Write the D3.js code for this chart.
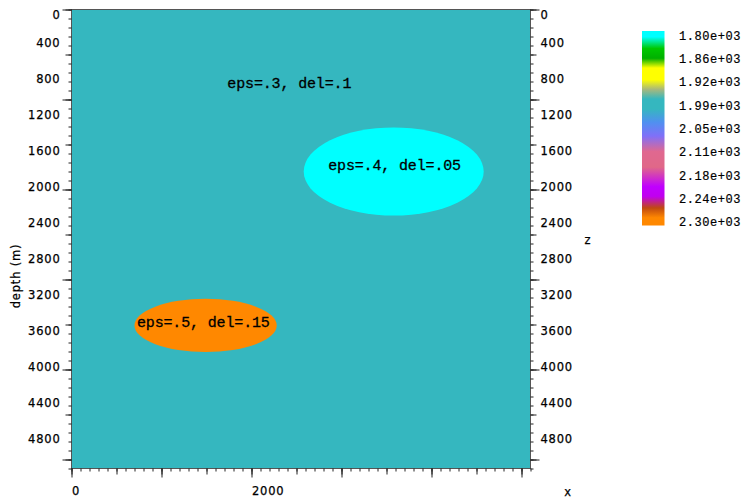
<!DOCTYPE html>
<html><head><meta charset="utf-8">
<script src="https://cdn.jsdelivr.net/npm/d3@7"></script>
<style>
html,body{margin:0;padding:0;background:#fff;}
svg{display:block;}
.ax text{font-family:"DejaVu Sans",sans-serif;font-size:11.5px;letter-spacing:0.8px;fill:#000;stroke:#000;stroke-width:0.25px;}
.cb text{font-family:"Liberation Mono",monospace;font-size:12px;letter-spacing:0.55px;fill:#000;stroke:#000;stroke-width:0.2px;}
.lbl{font-family:"Liberation Mono",monospace;font-size:15px;letter-spacing:-0.15px;fill:#000;stroke:#000;stroke-width:0.3px;}
</style>
</head><body>
<svg id="c" width="747" height="498"></svg>
<script>
// ---- data ----
const xDomain = [0, 5100];
const zDomain = [0, 5100];
const backgroundValue = 2000;
const anomalies = [
  {cx: 3580, cz: 1800, ax: 1000, az: 490, value: 1800},
  {cx: 1490, cz: 3510, ax: 790, az: 295, value: 2300}
];
const annotations = [
  {text: "eps=.3, del=.1", x: 2420, z: 870},
  {text: "eps=.4, del=.05", x: 3590, z: 1783},
  {text: "eps=.5, del=.15", x: 1465, z: 3531}
];
const zTickLabels = [0,400,800,1200,1600,2000,2400,2800,3200,3600,4000,4400,4800];
const xTickLabels = [0, 2000];
const colorbarLabels = ["1.80e+03","1.86e+03","1.92e+03","1.99e+03","2.05e+03","2.11e+03","2.18e+03","2.24e+03","2.30e+03"];
const cmapT =      [0, 0.03, 0.09, 0.14, 0.19, 0.25, 0.30, 0.35, 0.40, 0.47, 0.54, 0.62, 0.70, 0.80, 0.85, 0.91, 0.96, 1];
const cmapColors = ["#00ffff","#00ffff","#00c800","#00b000","#ffff00","#ffff00","#a8b87c","#35b7bf","#35b7bf","#5090f0","#8070f8","#e06890","#e06888","#c000ff","#c000f0","#c04a10","#ff8800","#ff8800"];
const vMin = 1800, vMax = 2300;

// ---- scales ----
const svg = d3.select("#c");
const x = d3.scaleLinear().domain(xDomain).range([71.5, 530.5]);
const z = d3.scaleLinear().domain(zDomain).range([9.5, 468.5]);
const color = d3.scaleLinear().domain(cmapT.map(t => vMin + t*(vMax-vMin))).range(cmapColors).clamp(true);

// background
svg.append("rect").attr("x", x(xDomain[0])).attr("y", z(zDomain[0]))
  .attr("width", x(xDomain[1]) - x(xDomain[0])).attr("height", z(zDomain[1]) - z(zDomain[0]))
  .attr("fill", color(backgroundValue));

svg.append("g").selectAll("ellipse").data(anomalies).join("ellipse")
  .attr("cx", d => x(d.cx)).attr("cy", d => z(d.cz))
  .attr("rx", d => x(d.ax) - x(0)).attr("ry", d => z(d.az) - z(0))
  .attr("fill", d => color(d.value));

svg.append("g").selectAll("text").data(annotations).join("text")
  .attr("class", "lbl").attr("x", d => x(d.x)).attr("y", d => z(d.z))
  .attr("text-anchor", "middle").text(d => d.text);

// frame
svg.append("rect").attr("x", x(xDomain[0])).attr("y", z(zDomain[0]))
  .attr("width", x(xDomain[1]) - x(xDomain[0])).attr("height", z(zDomain[1]) - z(zDomain[0]))
  .attr("fill", "none").attr("stroke", "#555").attr("stroke-width", 1);

// ticks
function tickSet(step, max) { return d3.range(0, max + 1, step); }
const tiers = [
  {step: 100, size: 3},
  {step: 500, size: 6},
  {step: 1000, size: 9}
];
tiers.forEach(t => {
  const zv = tickSet(t.step, zDomain[1]);
  const xv = tickSet(t.step, xDomain[1]);
  svg.append("g").attr("class", "ax").attr("transform", `translate(${x(xDomain[0])},0)`)
    .call(d3.axisLeft(z).tickValues(zv).tickSize(t.size).tickFormat("")).call(g => g.select(".domain").remove());
  svg.append("g").attr("class", "ax").attr("transform", `translate(${x(xDomain[1])},0)`)
    .call(d3.axisRight(z).tickValues(zv).tickSize(t.size).tickFormat("")).call(g => g.select(".domain").remove());
  svg.append("g").attr("class", "ax").attr("transform", `translate(0,${z(zDomain[1])})`)
    .call(d3.axisBottom(x).tickValues(xv).tickSize(t.size).tickFormat("")).call(g => g.select(".domain").remove());
});
svg.selectAll(".ax .tick line").attr("stroke", "#222");

// labels
function fixY(sel) {
  sel.selectAll("text").attr("dy", d => d === 0 ? "0.75em" : "0.1em").attr("font-family", null).attr("font-size", null);
}
const gl = svg.append("g").attr("class", "ax").attr("transform", `translate(${x(xDomain[0])},0)`)
  .call(d3.axisLeft(z).tickValues(zTickLabels).tickSize(0).tickPadding(11).tickFormat(d3.format("d")));
gl.select(".domain").remove();
fixY(gl);
const gr = svg.append("g").attr("class", "ax").attr("transform", `translate(${x(xDomain[1])},0)`)
  .call(d3.axisRight(z).tickValues(zTickLabels).tickSize(0).tickPadding(10).tickFormat(d3.format("d")));
gr.select(".domain").remove();
fixY(gr);
const gb = svg.append("g").attr("class", "ax").attr("transform", `translate(0,${z(zDomain[1])})`)
  .call(d3.axisBottom(x).tickValues(xTickLabels).tickSize(0).tickPadding(18).tickFormat(d3.format("d")));
gb.select(".domain").remove();
gb.selectAll("text").attr("text-anchor", "start").attr("font-family", null).attr("font-size", null);

const titles = svg.append("g").attr("class", "ax");
titles.append("text").attr("transform", "translate(20,276) rotate(-90)").attr("text-anchor", "middle").text("depth (m)");
titles.append("text").attr("x", 588).attr("y", 244).attr("text-anchor", "middle").text("z");
titles.append("text").attr("x", 568).attr("y", 496).attr("text-anchor", "middle").text("x");

// colorbar
const cbTop = 31, cbBot = 225.5, cbX = 642, cbW = 22.5;
const defs = svg.append("defs");
const grad = defs.append("linearGradient").attr("id", "cbg").attr("x1", 0).attr("y1", 0).attr("x2", 0).attr("y2", 1);
grad.selectAll("stop").data(cmapT).join("stop")
  .attr("offset", d => d).attr("stop-color", d => color(vMin + d*(vMax-vMin)));
svg.append("rect").attr("x", cbX).attr("y", cbTop).attr("width", cbW).attr("height", cbBot - cbTop).attr("fill", "url(#cbg)");
const cbScale = d3.scalePoint().domain(colorbarLabels).range([35, 221.7]);
svg.append("g").attr("class", "cb").selectAll("text").data(colorbarLabels).join("text")
  .attr("x", 679).attr("y", d => cbScale(d) + 4.5).text(d => d);
</script>
</body></html>
